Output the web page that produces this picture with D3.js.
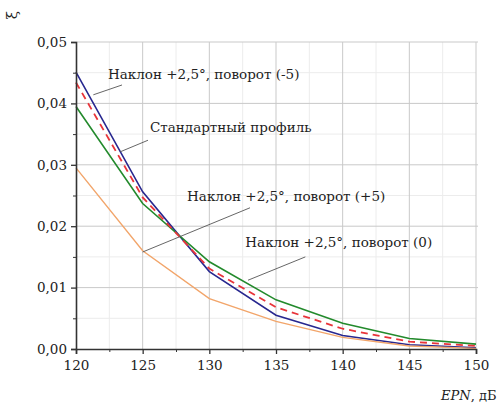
<!DOCTYPE html>
<head>
  <meta charset="utf-8">
  <script src="https://cdn.jsdelivr.net/npm/d3@7"></script>
  <style>
    body {
      margin: 0;
      background-color: #fff;
    }
    svg text {
      font-family: "DejaVu Serif", "Liberation Serif", serif;
      fill: #222;
    }
    svg text.note {
      font-size: 13.5px;
    }
    .grid-major line { stroke: #c9c9c9; stroke-width: 1; }
    .grid-minor line { stroke: #ececec; stroke-width: 1; }
    .leader { stroke: #555; stroke-width: 0.9; }
  </style>
</head>

<body>
  <script>
    // Data
    var epn = [120, 125, 130, 135, 140, 145, 150];

    var turnMinus5 = [0.0451, 0.0256, 0.0126, 0.0055, 0.0022, 0.0007, 0.0002];
    var dashedRed  = [0.0434, 0.0247, 0.0131, 0.0068, 0.0033, 0.0012, 0.0005];
    var standard   = [0.0395, 0.0237, 0.0142, 0.0080, 0.0042, 0.0017, 0.0008];
    var turnPlus0  = [0.0295, 0.0160, 0.0082, 0.0045, 0.0019, 0.0005, 0.0001];

    var xTicks = [120, 125, 130, 135, 140, 145, 150];
    var yTicks = [0, 0.01, 0.02, 0.03, 0.04, 0.05];

    var labels = [
      "Наклон +2,5°, поворот (-5)",
      "Стандартный профиль",
      "Наклон +2,5°, поворот (+5)",
      "Наклон +2,5°, поворот (0)"
    ];
    // text anchor (x, y) and leader line [x1, y1, x2, y2] in data units
    var labelAt = [[122.4, 0.0440], [125.55, 0.0353], [128.33, 0.0241], [132.7, 0.0166]];
    var leaders = [
      [121.3, 0.0414, 123.45, 0.0430],
      [123.3, 0.0321, 125.4, 0.0340],
      [125.0, 0.0158, 133.05, 0.0230],
      [132.9, 0.0112, 137.2, 0.0150]
    ];

    // Layout
    var margin = { top: 42, left: 76 },
        width = 400,
        height = 307;

    var svg = d3.select("body").append("svg")
      .attr("width", 503)
      .attr("height", 407);

    var g = svg.append("g")
      .attr("transform", "translate(" + margin.left + "," + margin.top + ")");

    var x = d3.scaleLinear().domain([120, 150]).range([0, width]);
    var y = d3.scaleLinear().domain([0, 0.05]).range([height, 0]);

    // grids
    var minorX = d3.range(120, 150.1, 2.5).filter(function(d) { return d % 5 !== 0; });
    var minorY = d3.range(0, 0.0501, 0.005).filter(function(d, i) { return i % 2 === 1; });

    var gridMinor = g.append("g").attr("class", "grid-minor");
    gridMinor.selectAll("line.v").data(minorX).enter().append("line")
        .attr("x1", function(d) { return x(d); }).attr("x2", function(d) { return x(d); })
        .attr("y1", 0).attr("y2", height);
    gridMinor.selectAll("line.h").data(minorY).enter().append("line")
        .attr("x1", 0).attr("x2", width)
        .attr("y1", function(d) { return y(d); }).attr("y2", function(d) { return y(d); });

    var gridMajor = g.append("g").attr("class", "grid-major");
    gridMajor.selectAll("line.v").data(xTicks.slice(1)).enter().append("line")
        .attr("x1", function(d) { return x(d); }).attr("x2", function(d) { return x(d); })
        .attr("y1", 0).attr("y2", height);
    gridMajor.selectAll("line.h").data(yTicks.slice(1)).enter().append("line")
        .attr("x1", 0).attr("x2", width + 2)
        .attr("y1", function(d) { return y(d); }).attr("y2", function(d) { return y(d); });

    // series
    var series = [
      { values: turnMinus5, color: "#27278f", width: 1.6, dash: null },
      { values: standard,   color: "#238a2c", width: 1.6, dash: null },
      { values: turnPlus0,  color: "#f2a56a", width: 1.4, dash: null },
      { values: dashedRed,  color: "#e8343a", width: 1.8, dash: "7,5" }
    ];

    var line = d3.line()
      .x(function(d, i) { return x(epn[i]); })
      .y(function(d) { return y(d); });

    g.selectAll("path.series").data(series).enter().append("path")
      .attr("class", "series")
      .attr("fill", "none")
      .attr("stroke", function(d) { return d.color; })
      .attr("stroke-width", function(d) { return d.width; })
      .attr("stroke-dasharray", function(d) { return d.dash; })
      .attr("d", function(d) { return line(d.values); });

    // axes
    var xAxis = g.append("g")
      .attr("transform", "translate(0," + height + ")")
      .call(d3.axisBottom(x).tickValues(xTicks).tickSize(5).tickPadding(6).tickFormat(d3.format("d")));
    var xMinor = g.append("g")
      .attr("transform", "translate(0," + height + ")")
      .call(d3.axisBottom(x).tickValues(minorX).tickSize(3).tickFormat(""));
    xMinor.select(".domain").remove();

    var fmtY = function(d) { return d3.format(".2f")(d).replace(".", ","); };
    var yAxis = g.append("g")
      .call(d3.axisLeft(y).tickValues(yTicks).tickSize(5).tickPadding(4).tickFormat(fmtY));
    var yMinor = g.append("g")
      .call(d3.axisLeft(y).tickValues(minorY).tickSize(3).tickFormat(""));
    yMinor.select(".domain").remove();

    [xAxis, yAxis].forEach(function(a) {
      a.attr("font-family", null).attr("font-size", null);
      a.select(".domain").attr("stroke", "#333").attr("stroke-width", 1.6);
      a.selectAll(".tick line").attr("stroke", "#333").attr("stroke-width", 1.3);
      a.selectAll(".tick text").attr("fill", "#222").style("font-size", "13.5px");
    });
    [xMinor, yMinor].forEach(function(a) {
      a.selectAll(".tick line").attr("stroke", "#333").attr("stroke-width", 1);
    });

    // annotations
    g.selectAll("line.leader").data(leaders).enter().append("line")
      .attr("class", "leader")
      .attr("x1", function(d) { return x(d[0]); })
      .attr("y1", function(d) { return y(d[1]); })
      .attr("x2", function(d) { return x(d[2]); })
      .attr("y2", function(d) { return y(d[3]); });

    g.selectAll("text.note").data(labels).enter().append("text")
      .attr("class", "note")
      .attr("x", function(d, i) { return x(labelAt[i][0]); })
      .attr("y", function(d, i) { return y(labelAt[i][1]); })
      .text(function(d) { return d; });

    // axis titles
    svg.append("text")
      .attr("transform", "translate(17,15) rotate(-90)")
      .attr("text-anchor", "middle")
      .style("font-size", "15px")
      .text("ξ");

    var xt = svg.append("text")
      .attr("x", 441)
      .attr("y", 400)
      .style("font-size", "13px");
    xt.append("tspan").style("font-style", "italic").text("EPN");
    xt.append("tspan").text(", дБ");
  </script>
</body>
